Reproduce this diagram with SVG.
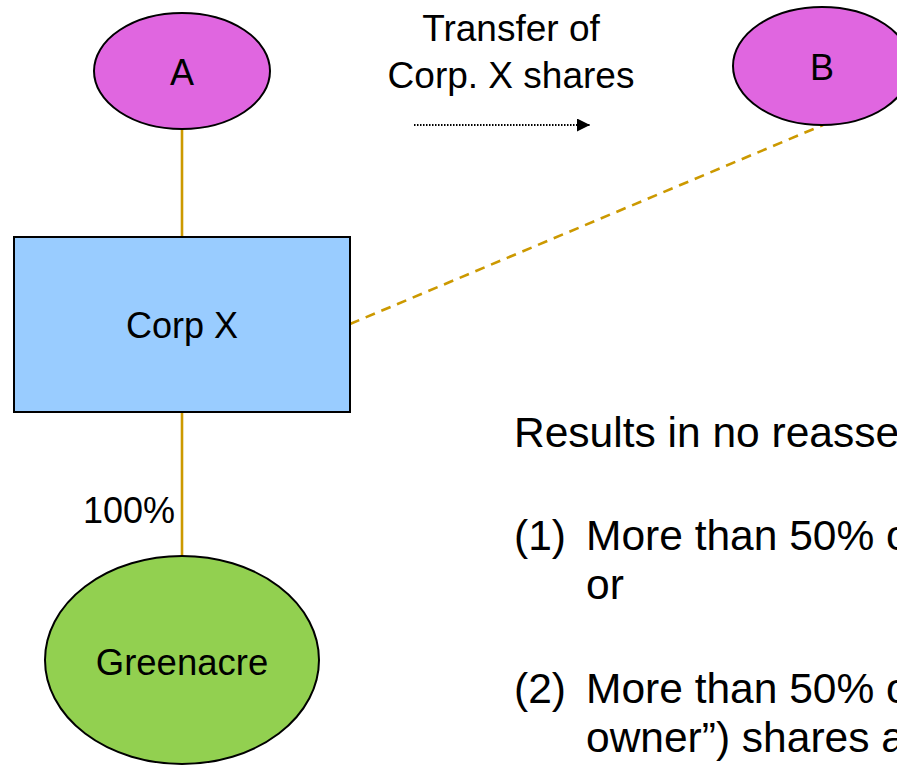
<svg xmlns="http://www.w3.org/2000/svg" width="897" height="765" viewBox="0 0 897 765">
<defs>
<style>
text{font-family:"Liberation Sans",Arial,sans-serif;fill:#000}
.lbl{font-size:36px;text-anchor:middle}
.big{font-size:42.5px}
.pink{fill:#E066E0;stroke:#000;stroke-width:2}
.link{stroke:#CC9900;stroke-width:2.6;fill:none}
</style>
<marker id="arr" viewBox="0 0 10 10" refX="10" refY="5" markerWidth="14" markerHeight="13" markerUnits="userSpaceOnUse" orient="auto">
<path d="M0,0 L10,5 L0,10 Z" fill="#000"/>
</marker>
</defs>
<rect width="897" height="765" fill="#fff"/>
<g id="connectors">
<line class="link" x1="182" y1="129" x2="182" y2="237"/>
<line class="link" x1="182" y1="412" x2="182" y2="557"/>
<line class="link" x1="350" y1="324" x2="823" y2="125" stroke-dasharray="10,7" stroke-width="1.8"/>
<line x1="414" y1="125" x2="590" y2="125" stroke="#000" stroke-width="2" stroke-dasharray="1.5,1.5" marker-end="url(#arr)"/>
</g>
<g id="nodeA">
<ellipse class="pink" cx="182" cy="71" rx="88" ry="58"/>
<text class="lbl" x="182" y="85">A</text>
</g>
<g id="nodeB">
<ellipse class="pink" cx="822" cy="66" rx="89" ry="59"/>
<text class="lbl" x="822" y="80">B</text>
</g>
<g id="corpX">
<rect x="14" y="237" width="336" height="175" fill="#99CCFF" stroke="#000" stroke-width="2"/>
<text class="lbl" x="182" y="338">Corp X</text>
</g>
<g id="greenacre">
<ellipse cx="182" cy="660" rx="137" ry="104" fill="#92D050" stroke="#000" stroke-width="2"/>
<text class="lbl" x="182" y="675" style="font-size:36.5px">Greenacre</text>
</g>
<g id="labels">
<text x="129" y="523" class="lbl">100%</text>
<text x="511" y="41" class="lbl" style="font-size:37px">Transfer of</text>
<text x="511" y="88" class="lbl" style="font-size:37px">Corp. X shares</text>
</g>
<g id="notes">
<text x="514" y="447" class="big">Results in no reasse</text>
<text x="514" y="550" class="big">(1)</text>
<text x="586" y="550" class="big">More than 50% o</text>
<text x="586" y="599" class="big">or</text>
<text x="514" y="703" class="big">(2)</text>
<text x="586" y="703" class="big">More than 50% o</text>
<text x="586" y="752" class="big">owner”) shares a</text>
</g>
</svg>
